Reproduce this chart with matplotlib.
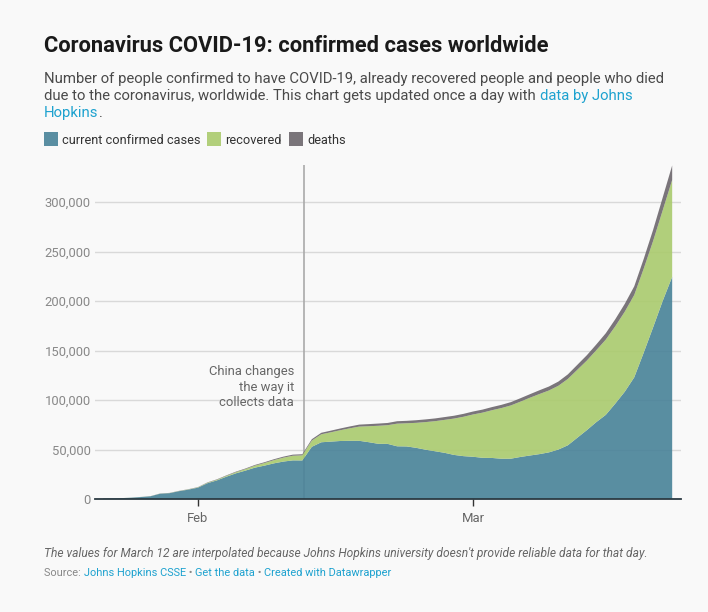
import matplotlib
matplotlib.use("Agg")
import matplotlib.pyplot as plt
import matplotlib.dates as mdates
from matplotlib.patches import Rectangle
from matplotlib.ticker import FuncFormatter
from matplotlib.font_manager import FontProperties
import pandas as pd

# JHU CSSE worldwide totals, Jan 22 - Mar 22 2020 (Mar 12 interpolated)
dates = pd.date_range("2020-01-22", "2020-03-22")
confirmed = [555, 654, 941, 1434, 2118, 2927, 5578, 6166, 8234, 9927,
             12038, 16787, 19881, 23892, 27635, 30794, 34391, 37120, 40150, 42762,
             44802, 45221, 60368, 66885, 69030, 71224, 73258, 75136, 75639, 76197,
             76819, 78572, 78958, 79561, 80406, 81388, 82746, 84112, 86011, 88369,
             90306, 92840, 95120, 97886, 101801, 105847, 109821, 113590, 118620, 125875,
             135540, 145205, 156101, 167454, 181574, 197102, 214821, 242570, 272208, 304507,
             336953]
deaths = [17, 18, 26, 42, 56, 82, 131, 133, 171, 213,
          259, 362, 426, 492, 564, 634, 719, 806, 906, 1013,
          1113, 1118, 1371, 1523, 1666, 1770, 1868, 2007, 2122, 2247,
          2251, 2458, 2469, 2629, 2708, 2770, 2814, 2872, 2941, 2996,
          3085, 3160, 3254, 3348, 3460, 3558, 3803, 3996, 4262, 4615,
          5010, 5404, 5819, 6440, 7126, 7905, 8733, 9867, 11299, 12973,
          14651]
recovered = [28, 30, 36, 39, 52, 61, 107, 126, 143, 222,
             284, 472, 623, 852, 1124, 1487, 2011, 2616, 3244, 3946,
             4683, 5150, 6295, 8058, 9395, 10865, 12583, 14352, 16121, 18177,
             18890, 22886, 23394, 25227, 27905, 30384, 33277, 36711, 39782, 42716,
             45602, 48228, 51170, 53796, 55865, 58358, 60694, 62494, 64404, 67003,
             68627, 70251, 72624, 76034, 78088, 80840, 83207, 84854, 87256, 91499,
             97882]
current = [c - r - d for c, r, d in zip(confirmed, recovered, deaths)]

series_names = ["current confirmed cases", "recovered", "deaths"]
colors = ["#488298", "#aacb6d", "#6c676c"]
legend_colors = ["#5a8ea2", "#b2cf7b", "#7a757a"]
yticks = [0, 50000, 100000, 150000, 200000, 250000, 300000]

W, H = 708, 612
BG = "#f9f9f9"
LINK = "#1ea2cf"
plt.rcParams["font.family"] = ["Roboto", "DejaVu Sans"]

fig = plt.figure(figsize=(W / 100, H / 100), dpi=100, facecolor=BG)
renderer = fig.canvas.get_renderer()


def pt(px):
    return px * 72 / 100


def put(x, y, s, **kw):
    return fig.text(x / W, 1 - y / H, s, va="baseline", **kw)


def width(s, size, **kw):
    fp = FontProperties(family=["Roboto", "DejaVu Sans"], size=size, **kw)
    w1 = renderer.get_text_width_height_descent("x" + s + "x", fp, ismath=False)[0]
    w0 = renderer.get_text_width_height_descent("xx", fp, ismath=False)[0]
    return w1 - w0


def run(x, y, parts, size, **kw):
    for s, c in parts:
        put(x, y, s, color=c, fontsize=size, **kw)
        x += width(s, size, **{k: v for k, v in kw.items() if k in ("style", "weight")})
    return x


# title and description
put(44, 52, "Coronavirus COVID-19: confirmed cases worldwide", fontsize=pt(21.9),
    weight="bold", color="#1a1a1a")
sub = pt(14.9)
txt = "#4a4a4a"
put(44, 83, "Number of people confirmed to have COVID-19, already recovered people and people who died",
    fontsize=sub, color=txt)
run(44, 100, [("due to the coronavirus, worldwide. This chart gets updated once a day with ", txt),
              ("data by Johns", LINK)], sub)
run(44, 117, [("Hopkins", LINK), (".", txt)], sub)

# legend
lx = 44
leg = pt(12.8)
for name, col in zip(series_names, legend_colors):
    fig.add_artist(Rectangle((lx / W, 1 - 146 / H), 14 / W, 14 / H,
                             transform=fig.transFigure, color=col, lw=0))
    put(lx + 18, 144, name, fontsize=leg, color="#333333")
    lx += 18 + width(name, leg) + 7

# chart
ax = fig.add_axes([95 / W, (H - 499) / H, (681 - 95) / W, (499 - 165) / H])
ax.set_facecolor(BG)
ax.axvline(mdates.date2num(pd.Timestamp("2020-02-12 05:00")), color="#aaaaaa", lw=1.2, zorder=1.5)
ax.stackplot(dates, current, recovered, deaths, colors=colors, alpha=0.9, lw=0, zorder=2)

ax.set_ylim(0, 300000 * (499 - 165) / 297)
feb = mdates.date2num(pd.Timestamp("2020-02-01"))
mar = mdates.date2num(pd.Timestamp("2020-03-01"))
ax.set_xlim(feb - 10.86, mar + 21.93)

ax.set_yticks(yticks)
ax.yaxis.set_major_formatter(FuncFormatter(lambda v, p: f"{int(v):,}"))
ax.grid(axis="y", color="#d9d9d9", lw=1, zorder=0)
ax.set_axisbelow(True)
ax.tick_params(axis="y", length=0, pad=3, labelsize=pt(13), labelcolor="#888888")
ax.set_xticks([feb, mar])
ax.set_xticklabels(["Feb", "Mar"])
ax.tick_params(axis="x", length=5, width=1, color="#333333", pad=4,
               labelsize=pt(13), labelcolor="#666666")
for s in ["top", "right", "left"]:
    ax.spines[s].set_visible(False)
ax.spines["bottom"].set_color("#2b3a42")
ax.spines["bottom"].set_linewidth(1.3)
ax.spines["bottom"].set_zorder(3)

for yy, line in zip([375.3, 390.7, 406], ["China changes", "the way it", "collects data"]):
    put(294, yy, line, ha="right", fontsize=pt(13), color="#666666")

# footer
put(44, 556.7, "The values for March 12 are interpolated because Johns Hopkins university doesn't provide reliable data for that day.",
    fontsize=pt(12), style="italic", color="#666666")
run(44, 575.7, [("Source: ", "#888888"), ("Johns Hopkins CSSE", LINK), (" • ", "#888888"),
                ("Get the data", LINK), (" • ", "#888888"), ("Created with Datawrapper", LINK)], pt(11))

fig.savefig("out.png", dpi=100, facecolor=BG)
